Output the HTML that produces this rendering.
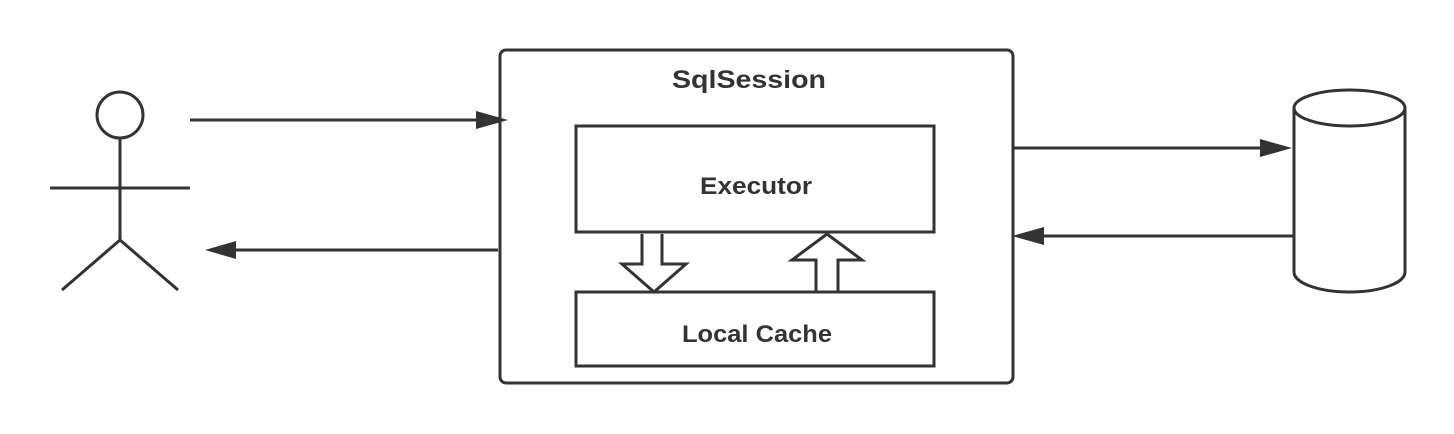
<!DOCTYPE html>
<html><head><style>body{margin:0;background:#fff}</style></head><body>
<svg width="1454" height="434" xmlns="http://www.w3.org/2000/svg" style="display:block">
<g fill="none" stroke="#333" stroke-width="3">
<circle cx="120" cy="115" r="23"/>
<line x1="120" y1="138" x2="120" y2="240"/>
<line x1="50" y1="188" x2="190" y2="188"/>
<line x1="120" y1="240" x2="62" y2="290"/>
<line x1="120" y1="240" x2="178" y2="290"/>
<rect x="500" y="50" width="513" height="333" rx="6"/>
<rect x="576" y="126" width="358" height="106"/>
<rect x="576" y="292" width="358" height="74"/>
<path d="M642,234 V264 H622 L654,292 L686,264 H662 V234"/>
<path d="M816,292 V260 H792 L827,234 L862,260 H838 V292"/>
<path d="M1294,108 V272 A55.5,20 0 0 0 1405,272 V108"/>
<ellipse cx="1349.5" cy="108" rx="55.5" ry="18"/>
</g>
<g stroke="#333" stroke-width="3" fill="#333">
<line x1="190" y1="120" x2="478" y2="120"/><path d="M476,111 L508,120 L476,129z" stroke="none"/>
<line x1="498" y1="250" x2="234" y2="250"/><path d="M236,241 L205,250 L236,259z" stroke="none"/>
<line x1="1014" y1="148" x2="1262" y2="148"/><path d="M1260,139 L1292,148 L1260,157z" stroke="none"/>
<line x1="1294" y1="236" x2="1042" y2="236"/><path d="M1044,227 L1012,236 L1044,245z" stroke="none"/>
</g>
<g font-family="Liberation Sans, sans-serif" font-weight="bold" fill="#333">
<text x="672" y="88" font-size="25" textLength="154" lengthAdjust="spacingAndGlyphs">SqlSession</text>
<text x="700" y="194" font-size="24" textLength="112" lengthAdjust="spacingAndGlyphs">Executor</text>
<text x="682" y="342" font-size="24" textLength="150" lengthAdjust="spacingAndGlyphs">Local Cache</text>
</g>
</svg>
</body></html>
